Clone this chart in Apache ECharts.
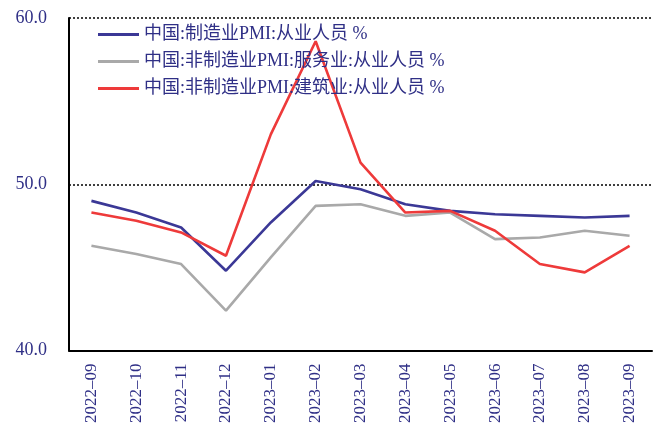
<!DOCTYPE html>
<html>
<head>
<meta charset="utf-8">
<script src="https://cdn.jsdelivr.net/npm/echarts@6/dist/echarts.min.js"></script>
<style>
  html, body { margin: 0; padding: 0; background: #fff; }
  #chart { width: 660px; height: 426px; }
</style>
</head>
<body>
<div id="chart"></div>
<script>
// Months on the category axis
const months = ['2022-09', '2022-10', '2022-11', '2022-12', '2023-01', '2023-02', '2023-03',
                '2023-04', '2023-05', '2023-06', '2023-07', '2023-08', '2023-09'];

// Employment sub-indices (%)
const manufacturing = [49.0, 48.3, 47.4, 44.8, 47.7, 50.2, 49.7, 48.8, 48.4, 48.2, 48.1, 48.0, 48.1];
const services      = [46.3, 45.8, 45.2, 42.4, 45.6, 48.7, 48.8, 48.1, 48.3, 46.7, 46.8, 47.2, 46.9];
const construction  = [48.3, 47.8, 47.1, 45.7, 53.0, 58.6, 51.3, 48.3, 48.4, 47.2, 45.2, 44.7, 46.3];

const seriesNames = ['中国:制造业PMI:从业人员 %', '中国:非制造业PMI:服务业:从业人员 %', '中国:非制造业PMI:建筑业:从业人员 %'];

const textColor = '#2f2f86';
const fontFamily = '"Liberation Serif", "Noto Sans CJK SC", serif';

const chart = echarts.init(document.getElementById('chart'));

function lineSeries(name, data, color) {
  return {
    name: name,
    type: 'line',
    data: data,
    symbol: 'none',
    lineStyle: { color: color, width: 2.6 },
    itemStyle: { color: color },
    z: 3
  };
}

chart.setOption({
  animation: false,
  backgroundColor: '#fff',
  grid: { left: 69, right: 8, top: 18, bottom: 73 },
  legend: {
    orient: 'vertical',
    left: 93,
    top: 18,
    icon: 'rect',
    itemWidth: 41,
    itemHeight: 3,
    itemGap: 4,
    textStyle: { color: textColor, fontSize: 18, fontFamily: fontFamily, lineHeight: 23 },
    data: seriesNames
  },
  xAxis: {
    type: 'category',
    data: months,
    boundaryGap: true,
    axisLine: { lineStyle: { color: '#000', width: 2 } },
    axisTick: { inside: true, length: 6, lineStyle: { color: '#000', width: 1.5 } },
    axisLabel: {
      rotate: 90,
      color: textColor,
      fontSize: 17,
      fontFamily: fontFamily,
      margin: 13,
      formatter: v => v.replace('-', '–')
    },
    splitLine: { show: false }
  },
  yAxis: {
    type: 'value',
    min: 40,
    max: 60,
    interval: 10,
    axisLine: { show: true, lineStyle: { color: '#000', width: 2 } },
    axisTick: { show: false },
    axisLabel: {
      color: textColor,
      fontSize: 18,
      fontFamily: fontFamily,
      margin: 22,
      formatter: v => v.toFixed(1)
    },
    splitLine: { show: true, lineStyle: { color: '#000', type: [2, 2], width: 1.5 } }
  },
  series: [
    lineSeries(seriesNames[0], manufacturing, '#3b3896'),
    lineSeries(seriesNames[1], services, '#a9a9a9'),
    lineSeries(seriesNames[2], construction, '#ee3a3a')
  ]
});
</script>
</body>
</html>
